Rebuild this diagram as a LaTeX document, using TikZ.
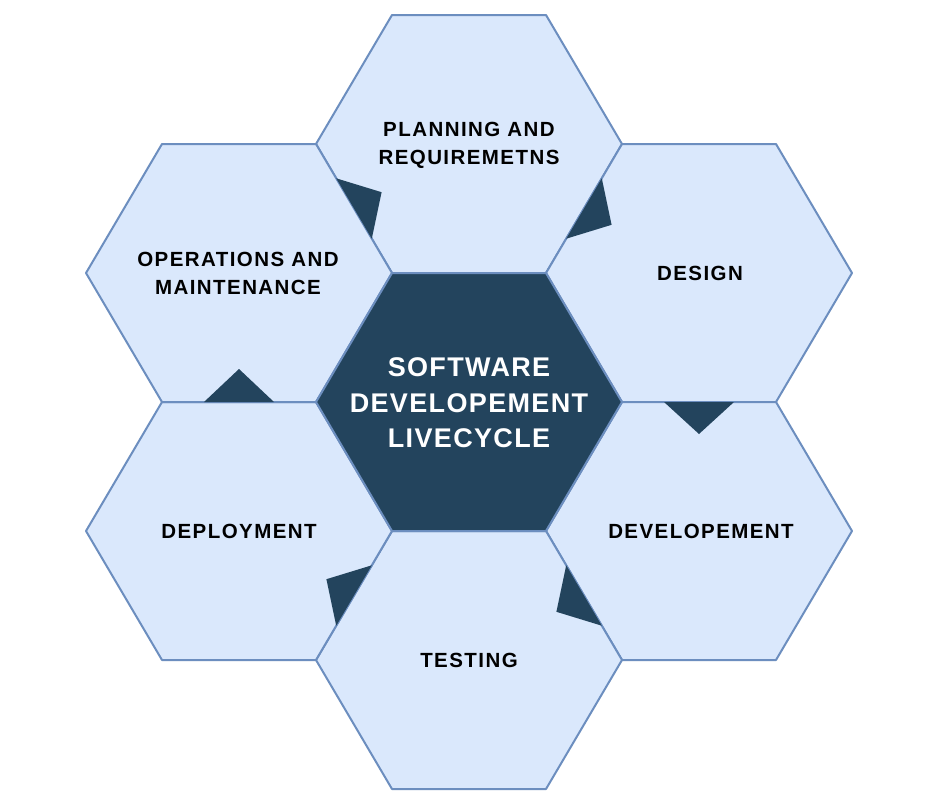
\documentclass[tikz,border=0pt]{standalone}
\usepackage{fontspec}
\setmainfont{Liberation Sans}
\newfontfamily\lblfont[LetterSpace=7]{Liberation Sans}
\newfontfamily\ctrfont[LetterSpace=5]{Liberation Sans}
\definecolor{hexfill}{HTML}{DAE8FC}
\definecolor{hexline}{HTML}{6C8EBF}
\definecolor{hexdark}{HTML}{23445D}
\tikzset{
  hexa/.pic={\path[pic actions] (-153,0) -- (-77,-129) -- (77,-129) -- (153,0) -- (77,129) -- (-77,129) -- cycle;},
  hexcell/.style={fill=hexfill,draw=hexline,line width=2pt,line join=round},
  hexcore/.style={fill=hexdark,draw=hexline,line width=2pt,line join=round},
  flowtip/.style={fill=hexdark,draw=none},
  lbl/.style={align=center,inner sep=0pt,text=black,font=\lblfont\bfseries\fontsize{20.5}{28}\selectfont},
  ctrlbl/.style={align=center,inner sep=0pt,text=white,font=\ctrfont\bfseries\fontsize{27}{35.5}\selectfont}
}
\begin{document}
\begin{tikzpicture}[x=1pt,y=-1pt]
\useasboundingbox[fill=white] (0,0) rectangle (938,809);
% hexagons
\pic[hexcell] at (469,144) {hexa};
\pic[hexcell] at (699,273) {hexa};
\pic[hexcell] at (699,531) {hexa};
\pic[hexcell] at (469,660) {hexa};
\pic[hexcell] at (239,531) {hexa};
\pic[hexcell] at (239,273) {hexa};
\pic[hexcore] at (469,402) {hexa};
% flow triangles
\fill[flowtip] (336.2,178.3) -- (371.8,238.7) -- (381.6,192.2) -- cycle;
\fill[flowtip] (566.2,238.7) -- (601.8,178.3) -- (611.6,224.8) -- cycle;
\fill[flowtip] (664,402) -- (734,402) -- (699,434) -- cycle;
\fill[flowtip] (566.2,565.3) -- (601.8,625.7) -- (556.4,611.8) -- cycle;
\fill[flowtip] (371.8,565.3) -- (336.2,625.7) -- (326.4,579.2) -- cycle;
\fill[flowtip] (204,402) -- (274,402) -- (239,369) -- cycle;
% labels
\node[lbl] (plan) at (469,145) {PLANNING AND\\REQUIREMETNS};
\node[lbl] (design) at (700,273) {DESIGN};
\node[lbl] (devel) at (701,531) {DEVELOPEMENT};
\node[lbl] (test) at (469,660) {TESTING};
\node[lbl] (deploy) at (239,531) {DEPLOYMENT};
\node[lbl] (ops) at (238,273) {OPERATIONS AND\\MAINTENANCE};
\node[ctrlbl] (core) at (469,403) {SOFTWARE\\DEVELOPEMENT\\LIVECYCLE};
\end{tikzpicture}
\end{document}
